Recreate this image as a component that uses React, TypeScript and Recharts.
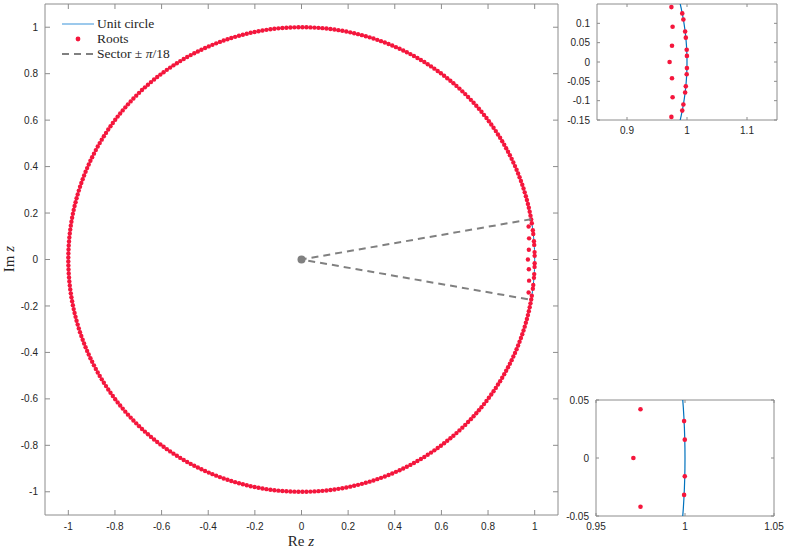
import { ScatterChart, Scatter, XAxis, YAxis, ReferenceArea } from "recharts";

const RED = "#f5163c";
const BLUE = "#0072bd";
const GREY = "#808080";
const AXIS = "#8c8c8c";
const TICK_TEXT = "#262626";
const SERIF = "'Liberation Serif', 'Times New Roman', serif";
const SANS = "'Liberation Sans', Arial, sans-serif";

// tick values
const mainTicks = [-1, -0.8, -0.6, -0.4, -0.2, 0, 0.2, 0.4, 0.6, 0.8, 1];
const topInsetXTicks = [0.9, 1, 1.1];
const topInsetYTicks = [-0.15, -0.1, -0.05, 0, 0.05, 0.1];
const botInsetXTicks = [0.95, 1, 1.05];
const botInsetYTicks = [-0.05, 0, 0.05];

// roots inside the +-pi/18 sector
const sectorInnerRoots = [
  { x: 0.974, y: 0.142 },
  { x: 0.976, y: 0.091 },
  { x: 0.975, y: 0.042 },
  { x: 0.971, y: 0 },
  { x: 0.975, y: -0.042 },
  { x: 0.976, y: -0.091 },
  { x: 0.974, y: -0.142 },
];
// angles (rad) of the roots sitting on the circle inside the sector, mirrored in y
const sectorOuterAngles = [0.0158, 0.0318, 0.063, 0.079, 0.11, 0.126, 0.157, 0.173];
// outside the sector the roots sit on the circle at a near constant spacing
const bulkFrom = 0.19;
const bulkRootCount = 344;

const SECTOR = Math.PI / 18;

const roots = [
  ...sectorInnerRoots,
  ...sectorOuterAngles.flatMap((a) => [
    { x: Math.cos(a), y: Math.sin(a) },
    { x: Math.cos(a), y: -Math.sin(a) },
  ]),
  ...Array.from({ length: bulkRootCount }, (_, i) => {
    const a = bulkFrom + (i * (2 * Math.PI - 2 * bulkFrom)) / (bulkRootCount - 1);
    return { x: Math.cos(a), y: Math.sin(a) };
  }),
];

const unitCircle = Array.from({ length: 721 }, (_, i) => {
  const a = (i / 720) * 2 * Math.PI;
  return { x: Math.cos(a), y: Math.sin(a) };
});

const sector = [
  { x: Math.cos(SECTOR), y: Math.sin(SECTOR) },
  { x: 0, y: 0 },
  { x: Math.cos(SECTOR), y: -Math.sin(SECTOR) },
];
const origin = [{ x: 0, y: 0 }];

const tickFont = { fontFamily: SANS, fontSize: 10, fill: TICK_TEXT };

function xTick(top: number, bottom: number, len: number) {
  return (p: any) => (
    <g>
      <line x1={p.x} x2={p.x} y1={bottom} y2={bottom - len} stroke={AXIS} />
      <line x1={p.x} x2={p.x} y1={top} y2={top + len} stroke={AXIS} />
      <text x={p.x} y={p.y} dy="0.71em" textAnchor="middle" {...tickFont}>
        {String(p.payload.value)}
      </text>
    </g>
  );
}

function yTick(left: number, right: number, len: number) {
  return (p: any) => (
    <g>
      <line x1={left} x2={left + len} y1={p.y} y2={p.y} stroke={AXIS} />
      <line x1={right} x2={right - len} y1={p.y} y2={p.y} stroke={AXIS} />
      <text x={p.x} y={p.y} dy="0.355em" textAnchor="end" {...tickFont}>
        {String(p.payload.value)}
      </text>
    </g>
  );
}

const dot = (r: number) => (p: any) => <circle cx={p.cx} cy={p.cy} r={r} fill={RED} />;
const none = () => <g />;

function MainPlot() {
  // plot area: x 45..558, y 4..515
  return (
    <ScatterChart width={570} height={550} margin={{ top: 4, right: 12, bottom: 0, left: 0 }}>
      <XAxis
        type="number"
        dataKey="x"
        domain={[-1.1, 1.1]}
        ticks={mainTicks}
        height={35}
        axisLine={false}
        tickLine={false}
        tickSize={0}
        tickMargin={8}
        tick={xTick(4, 515, 5)}
        interval={0}
        label={{
          content: () => (
            <text x={301} y={546} textAnchor="middle" fontFamily={SERIF} fontSize={15} fill={TICK_TEXT}>
              Re <tspan fontStyle="italic">z</tspan>
            </text>
          ),
        }}
      />
      <YAxis
        type="number"
        dataKey="y"
        domain={[-1.1, 1.1]}
        ticks={mainTicks}
        width={45}
        axisLine={false}
        tickLine={false}
        tickSize={0}
        tickMargin={7}
        tick={yTick(45, 558, 5)}
        interval={0}
        label={{
          content: () => (
            <text
              x={14}
              y={259}
              transform="rotate(-90 14 259)"
              textAnchor="middle"
              fontFamily={SERIF}
              fontSize={15}
              fill={TICK_TEXT}
            >
              Im <tspan fontStyle="italic">z</tspan>
            </text>
          ),
        }}
      />
      <ReferenceArea x1={-1.1} x2={1.1} y1={-1.1} y2={1.1} fill="none" stroke={AXIS} strokeWidth={1} />
      <Scatter data={unitCircle} line={{ stroke: BLUE, strokeWidth: 1 }} lineType="joint" shape={none} isAnimationActive={false} />
      <Scatter data={roots} shape={dot(2.2)} isAnimationActive={false} />
      <Scatter
        data={sector}
        line={{ stroke: GREY, strokeWidth: 2, strokeDasharray: "7 5" }}
        lineType="joint"
        shape={none}
        isAnimationActive={false}
      />
      <Scatter data={origin} shape={(p: any) => <circle cx={p.cx} cy={p.cy} r={4} fill={GREY} />} isAnimationActive={false} />
    </ScatterChart>
  );
}

function Inset(props: {
  xDomain: [number, number];
  yDomain: [number, number];
  xTicks: number[];
  yTicks: number[];
  left: number;
  right: number;
  top: number;
  bottom: number;
  yAxisWidth: number;
  marginRight: number;
}) {
  const { xDomain, yDomain, xTicks, yTicks, left, right, top, bottom, yAxisWidth, marginRight } = props;
  const inView = roots.filter(
    (r) => r.x > xDomain[0] - 0.01 && r.x < xDomain[1] + 0.01 && r.y > yDomain[0] - 0.01 && r.y < yDomain[1] + 0.01
  );
  return (
    <ScatterChart width={249} height={145} margin={{ top: 4, right: marginRight, bottom: 0, left: 0 }}>
      <XAxis
        type="number"
        dataKey="x"
        domain={xDomain}
        ticks={xTicks}
        allowDataOverflow
        height={25}
        axisLine={false}
        tickLine={false}
        tickSize={0}
        tickMargin={7}
        tick={xTick(top, bottom, 3)}
        interval={0}
      />
      <YAxis
        type="number"
        dataKey="y"
        domain={yDomain}
        ticks={yTicks}
        allowDataOverflow
        width={yAxisWidth}
        axisLine={false}
        tickLine={false}
        tickSize={0}
        tickMargin={7}
        tick={yTick(left, right, 3)}
        interval={0}
      />
      <Scatter data={unitCircle} line={{ stroke: BLUE, strokeWidth: 1.2 }} lineType="joint" shape={none} isAnimationActive={false} />
      <Scatter data={inView} shape={dot(2.3)} isAnimationActive={false} />
      <ReferenceArea x1={xDomain[0]} x2={xDomain[1]} y1={yDomain[0]} y2={yDomain[1]} fill="none" stroke={AXIS} strokeWidth={1} />
    </ScatterChart>
  );
}

function LegendBox() {
  return (
    <svg width={200} height={70} style={{ position: "absolute", left: 0, top: 0, pointerEvents: "none" }}>
      <line x1={62} x2={94} y1={24} y2={24} stroke="#5aa6e0" strokeWidth={1.2} />
      <text x={97} y={28} fontFamily={SERIF} fontSize={13.5} fill={TICK_TEXT}>
        Unit circle
      </text>
      <circle cx={78} cy={39} r={2.4} fill={RED} />
      <text x={97} y={43} fontFamily={SERIF} fontSize={13.5} fill={TICK_TEXT}>
        Roots
      </text>
      <line x1={62} x2={94} y1={54} y2={54} stroke={GREY} strokeWidth={2} strokeDasharray="7 5" />
      <text x={97} y={58} fontFamily={SERIF} fontSize={13.5} fill={TICK_TEXT}>
        Sector ± <tspan fontStyle="italic">π</tspan>/18
      </text>
    </svg>
  );
}

export default function App() {
  return (
    <div style={{ position: "absolute", left: 0, top: 0, width: 789, height: 550, background: "#fff" }}>
      <div style={{ position: "absolute", left: 0, top: 0 }}>
        <MainPlot />
      </div>
      <LegendBox />
      <div style={{ position: "absolute", left: 540, top: 0 }}>
        <Inset
          xDomain={[0.85, 1.15]}
          yDomain={[-0.15, 0.15]}
          xTicks={topInsetXTicks}
          yTicks={topInsetYTicks}
          left={57}
          right={237}
          top={4}
          bottom={120}
          yAxisWidth={57}
          marginRight={12}
        />
      </div>
      <div style={{ position: "absolute", left: 540, top: 396 }}>
        <Inset
          xDomain={[0.95, 1.05]}
          yDomain={[-0.05, 0.05]}
          xTicks={botInsetXTicks}
          yTicks={botInsetYTicks}
          left={56}
          right={234}
          top={4}
          bottom={120}
          yAxisWidth={56}
          marginRight={15}
        />
      </div>
    </div>
  );
}
